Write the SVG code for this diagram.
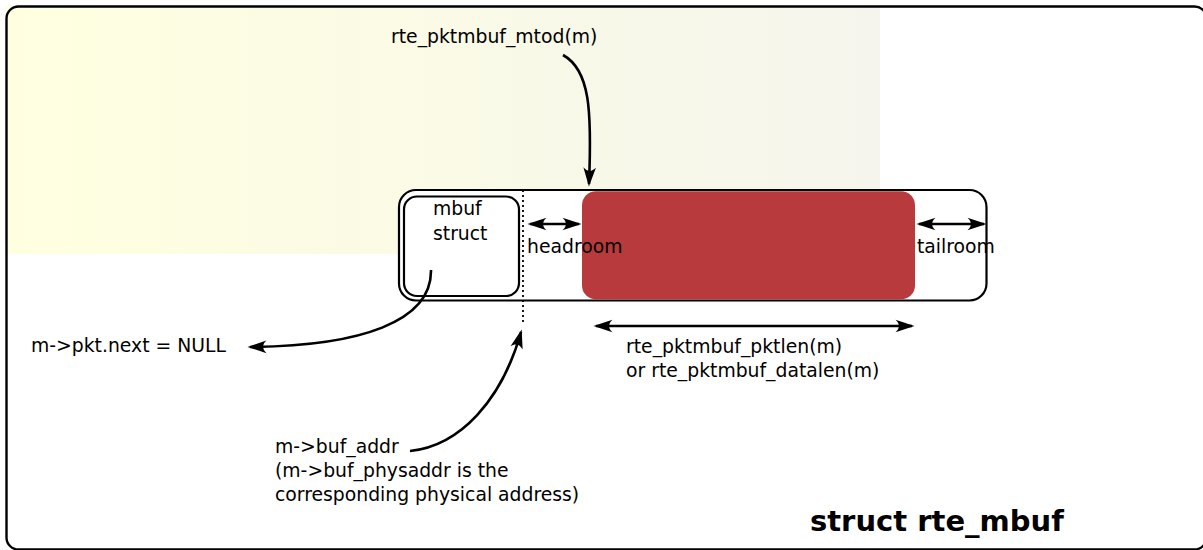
<svg xmlns="http://www.w3.org/2000/svg" width="1203" height="550" viewBox="0 0 1203 550">
<style>
text{font-family:"DejaVu Sans","Liberation Sans",sans-serif;font-size:18.8px;fill:#000}
.title{font-weight:bold;font-size:29px}
.ln{fill:none;stroke:#000;stroke-width:2.6}
.box{fill:#fff;stroke:#000;stroke-width:2.2}
</style>
<defs>
<linearGradient id="bg" x1="0" y1="0" x2="1" y2="0">
<stop offset="0" stop-color="#ffffe0"/>
<stop offset="1" stop-color="#f5f5ed"/>
</linearGradient>
<marker id="ah" markerUnits="userSpaceOnUse" viewBox="-19 -7 22 14" refX="0" refY="0" markerWidth="22" markerHeight="14" orient="auto-start-reverse">
<path d="M 2.5 0 L -16.5 -6.3 C -12 -2.2 -12 2.2 -16.5 6.3 Z" fill="#000"/>
</marker>
</defs>
<rect x="0" y="0" width="1203" height="550" fill="#fff"/>
<g id="background">
<rect x="6" y="6" width="874" height="248" fill="url(#bg)"/>
<rect x="6.5" y="6.5" width="1200" height="543" rx="12" fill="none" stroke="#000" stroke-width="2.4"/>
</g>
<g id="buffer">
<rect class="box" x="399" y="190" width="587.5" height="110.5" rx="17"/>
<rect x="582" y="191.2" width="333" height="108.2" rx="14" fill="#b83a3c"/>
</g>
<g id="mbuf-struct">
<rect class="box" x="404" y="196.5" width="115" height="99.5" rx="13"/>
<text x="433" y="215">mbuf</text>
<text x="433" y="240">struct</text>
</g>
<g id="buf-addr-marker">
<line x1="523" y1="190" x2="523" y2="324" stroke="#000" stroke-width="1.8" stroke-dasharray="2 3"/>
</g>
<g id="connectors">
<path class="ln" d="M 563 55 C 590 70 592 110 589 184" marker-end="url(#ah)"/>
<path class="ln" d="M 431 270 C 432 322 360 346 250 347" marker-end="url(#ah)"/>
<path class="ln" d="M 410 451 C 460 446 502 400 521 332" marker-end="url(#ah)"/>
<line class="ln" x1="530" y1="224" x2="579" y2="224" marker-start="url(#ah)" marker-end="url(#ah)"/>
<line class="ln" x1="919" y1="224" x2="984" y2="224" marker-start="url(#ah)" marker-end="url(#ah)"/>
<line class="ln" x1="596" y1="326" x2="912" y2="326" marker-start="url(#ah)" marker-end="url(#ah)"/>
</g>
<g id="labels">
<text x="391" y="43">rte_pktmbuf_mtod(m)</text>
<text x="527" y="253">headroom</text>
<text x="917" y="253">tailroom</text>
<text x="31" y="352">m-&gt;pkt.next = NULL</text>
<text x="626" y="353">rte_pktmbuf_pktlen(m)</text>
<text x="626" y="377">or rte_pktmbuf_datalen(m)</text>
<text x="275" y="453">m-&gt;buf_addr</text>
<text x="275" y="477">(m-&gt;buf_physaddr is the</text>
<text x="275" y="501">corresponding physical address)</text>
<text class="title" x="810" y="531">struct rte_mbuf</text>
</g>
</svg>
